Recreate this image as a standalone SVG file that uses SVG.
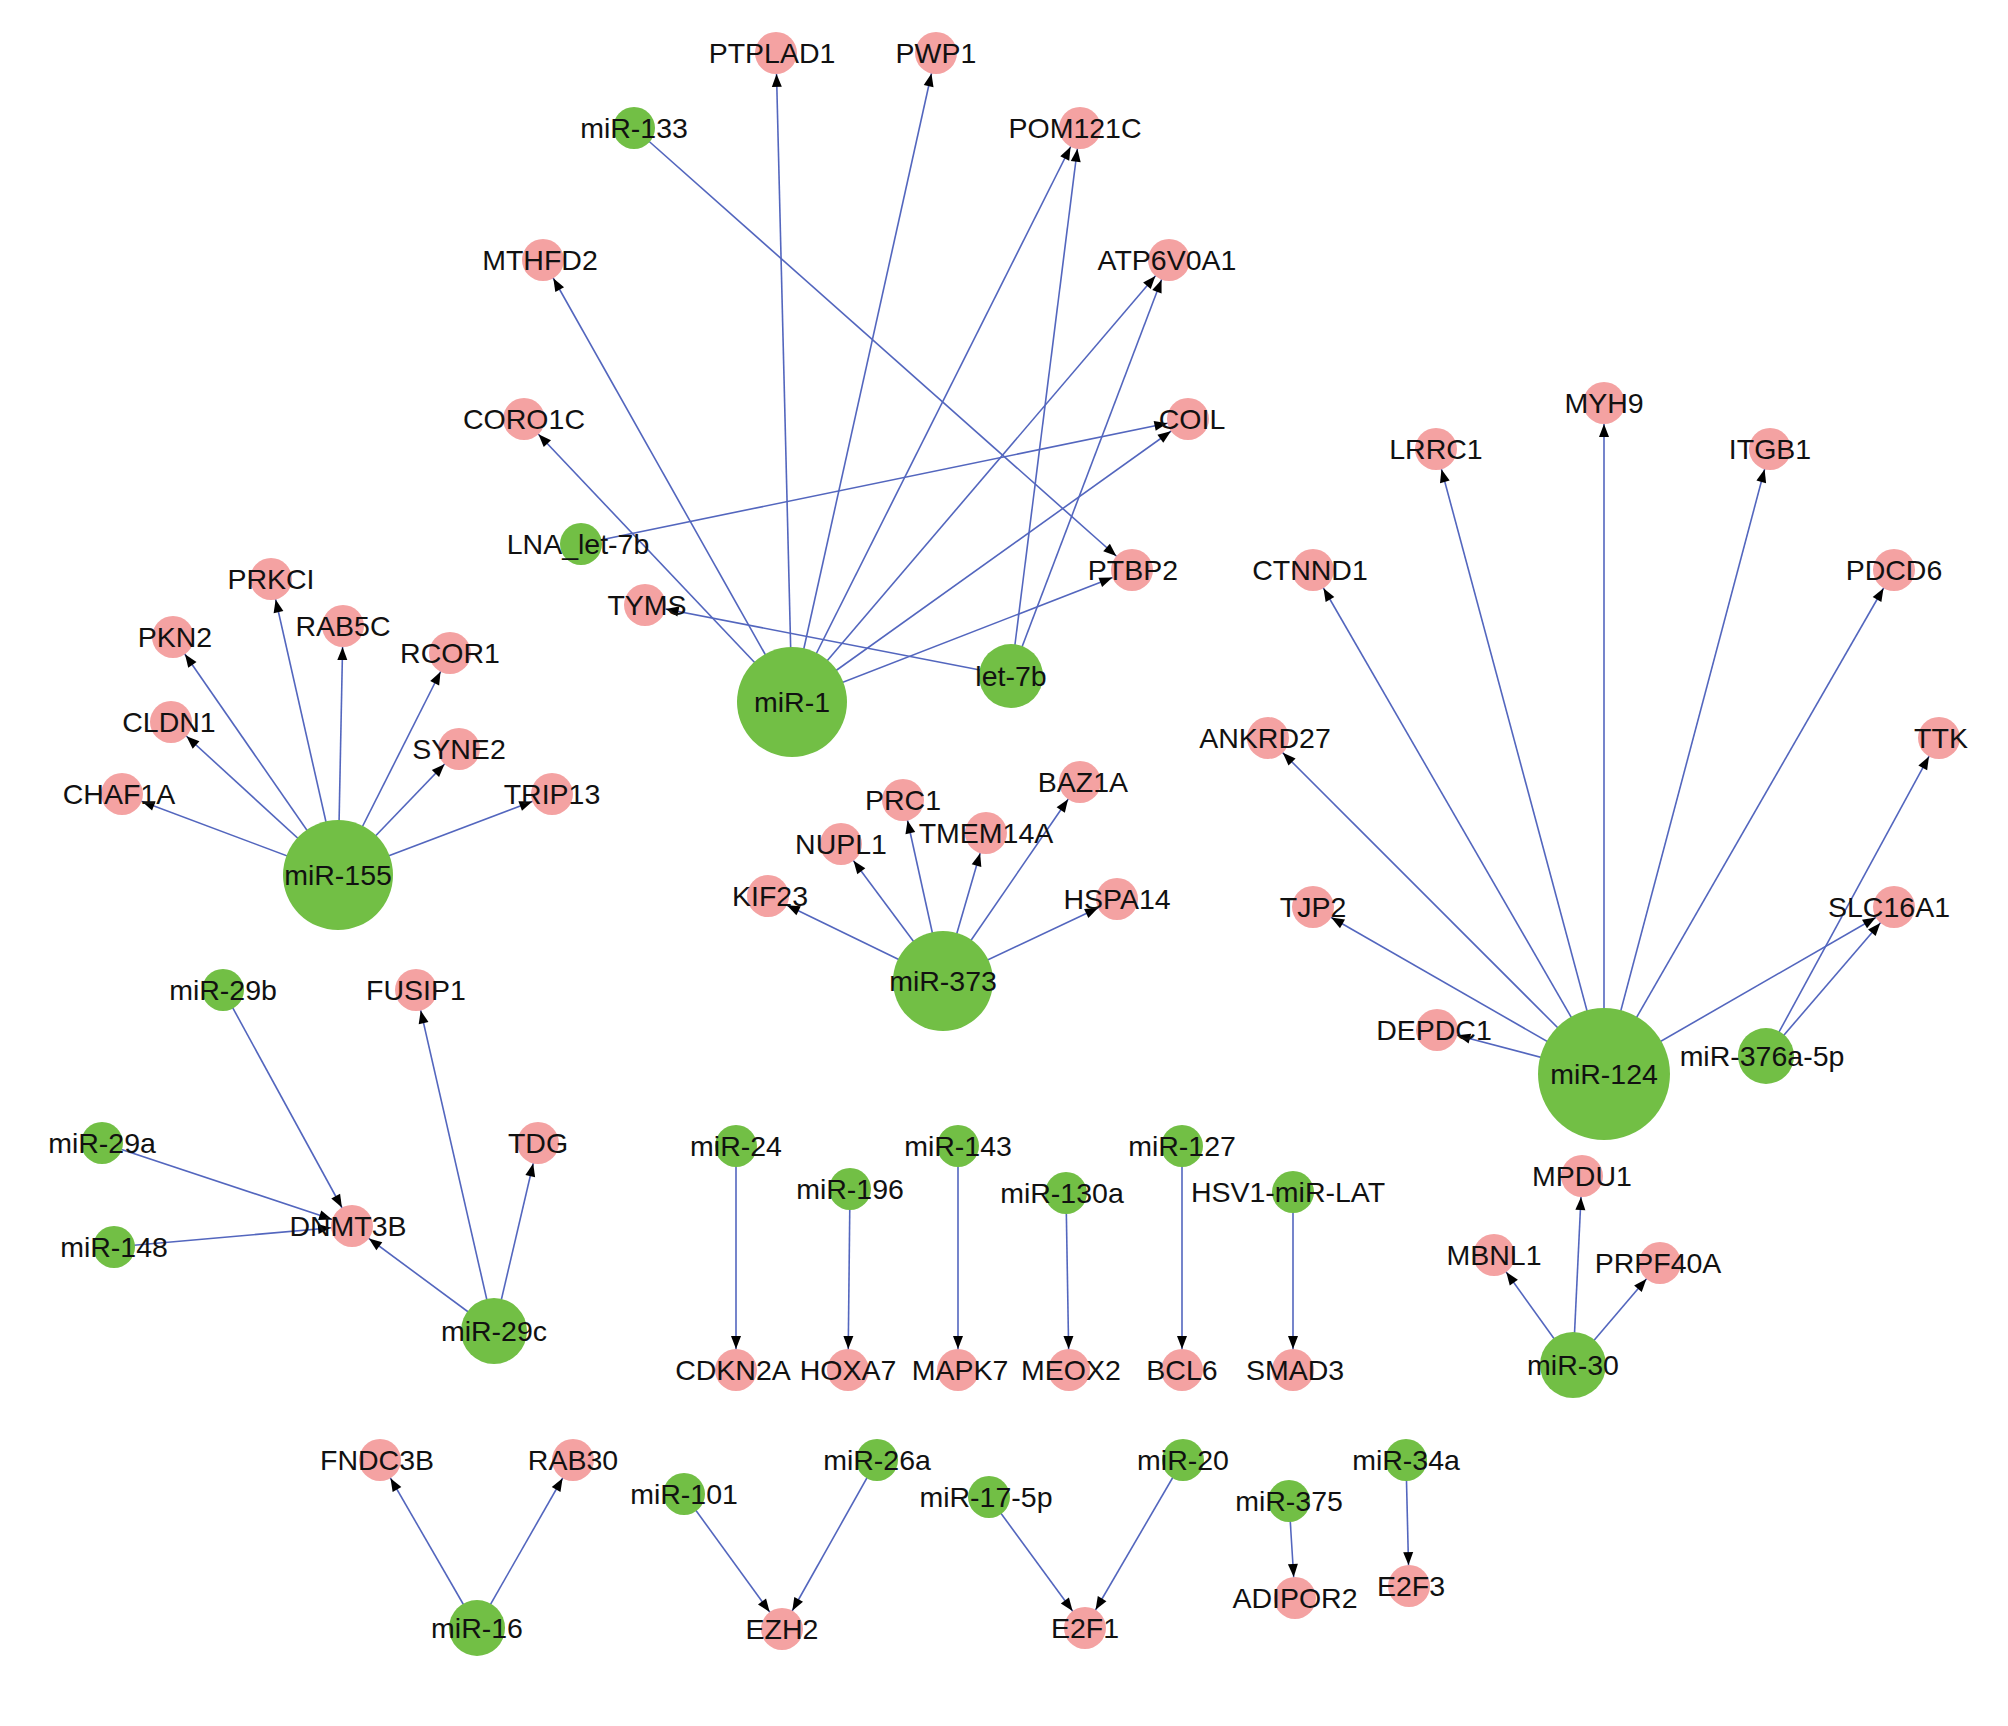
<svg xmlns="http://www.w3.org/2000/svg" width="2008" height="1726" viewBox="0 0 2008 1726">
<style>
.e{stroke:#5366be;stroke-width:1.6;fill:none;marker-end:url(#ah)}
.g{fill:#72bf45}
.p{fill:#f4a2a2}
text{font-family:"Liberation Sans",Arial,sans-serif;font-size:28.5px;fill:#111;text-anchor:middle}
</style>
<defs>
<marker id="ah" viewBox="-40 -10 40 20" markerWidth="40" markerHeight="20" refX="0" refY="0" orient="auto" markerUnits="userSpaceOnUse">
<path d="M-21,0 L-34,-5 L-34,5 z" fill="#000"/>
</marker>
</defs>
<rect width="2008" height="1726" fill="#fff"/>
<g id="connectors">
<line class="e" x1="792" y1="702" x2="776" y2="53"/>
<line class="e" x1="792" y1="702" x2="936" y2="53"/>
<line class="e" x1="792" y1="702" x2="1080" y2="128"/>
<line class="e" x1="792" y1="702" x2="1169" y2="260"/>
<line class="e" x1="792" y1="702" x2="1188" y2="419"/>
<line class="e" x1="792" y1="702" x2="1132" y2="570"/>
<line class="e" x1="792" y1="702" x2="543" y2="260"/>
<line class="e" x1="792" y1="702" x2="524" y2="419"/>
<line class="e" x1="1011" y1="676" x2="1080" y2="128"/>
<line class="e" x1="1011" y1="676" x2="1169" y2="260"/>
<line class="e" x1="1011" y1="676" x2="645" y2="605"/>
<line class="e" x1="581" y1="544" x2="1188" y2="419"/>
<line class="e" x1="634" y1="128" x2="1132" y2="570"/>
<line class="e" x1="338" y1="875" x2="122" y2="794"/>
<line class="e" x1="338" y1="875" x2="171" y2="722"/>
<line class="e" x1="338" y1="875" x2="173" y2="637"/>
<line class="e" x1="338" y1="875" x2="271" y2="579"/>
<line class="e" x1="338" y1="875" x2="343" y2="626"/>
<line class="e" x1="338" y1="875" x2="450" y2="653"/>
<line class="e" x1="338" y1="875" x2="459" y2="749"/>
<line class="e" x1="338" y1="875" x2="552" y2="794"/>
<line class="e" x1="943" y1="981" x2="768" y2="896"/>
<line class="e" x1="943" y1="981" x2="841" y2="844"/>
<line class="e" x1="943" y1="981" x2="903" y2="800"/>
<line class="e" x1="943" y1="981" x2="986" y2="833"/>
<line class="e" x1="943" y1="981" x2="1080" y2="782"/>
<line class="e" x1="943" y1="981" x2="1117" y2="899"/>
<line class="e" x1="1604" y1="1074" x2="1437" y2="1030"/>
<line class="e" x1="1604" y1="1074" x2="1313" y2="907"/>
<line class="e" x1="1604" y1="1074" x2="1268" y2="738"/>
<line class="e" x1="1604" y1="1074" x2="1313" y2="570"/>
<line class="e" x1="1604" y1="1074" x2="1436" y2="449"/>
<line class="e" x1="1604" y1="1074" x2="1604" y2="403"/>
<line class="e" x1="1604" y1="1074" x2="1770" y2="449"/>
<line class="e" x1="1604" y1="1074" x2="1894" y2="570"/>
<line class="e" x1="1604" y1="1074" x2="1894" y2="907"/>
<line class="e" x1="1766" y1="1056" x2="1894" y2="907"/>
<line class="e" x1="1766" y1="1056" x2="1939" y2="738"/>
<line class="e" x1="223" y1="990" x2="352" y2="1226"/>
<line class="e" x1="102" y1="1143" x2="352" y2="1226"/>
<line class="e" x1="114" y1="1247" x2="352" y2="1226"/>
<line class="e" x1="494" y1="1331" x2="352" y2="1226"/>
<line class="e" x1="494" y1="1331" x2="416" y2="990"/>
<line class="e" x1="494" y1="1331" x2="538" y2="1143"/>
<line class="e" x1="736" y1="1146" x2="736" y2="1370"/>
<line class="e" x1="850" y1="1189" x2="848" y2="1370"/>
<line class="e" x1="958" y1="1146" x2="958" y2="1370"/>
<line class="e" x1="1066" y1="1193" x2="1069" y2="1370"/>
<line class="e" x1="1182" y1="1146" x2="1182" y2="1370"/>
<line class="e" x1="1293" y1="1192" x2="1293" y2="1370"/>
<line class="e" x1="1573" y1="1365" x2="1494" y2="1255"/>
<line class="e" x1="1573" y1="1365" x2="1582" y2="1176"/>
<line class="e" x1="1573" y1="1365" x2="1660" y2="1263"/>
<line class="e" x1="477" y1="1628" x2="380" y2="1460"/>
<line class="e" x1="477" y1="1628" x2="573" y2="1460"/>
<line class="e" x1="684" y1="1494" x2="782" y2="1629"/>
<line class="e" x1="877" y1="1460" x2="782" y2="1629"/>
<line class="e" x1="989" y1="1497" x2="1085" y2="1628"/>
<line class="e" x1="1183" y1="1460" x2="1085" y2="1628"/>
<line class="e" x1="1289" y1="1501" x2="1295" y2="1598"/>
<line class="e" x1="1406" y1="1460" x2="1409" y2="1586"/>
</g>
<g id="n-miR-1"><circle class="g" cx="792" cy="702" r="55"/><text x="792" y="712">miR-1</text></g>
<g id="n-miR-155"><circle class="g" cx="338" cy="875" r="55"/><text x="338" y="885">miR-155</text></g>
<g id="n-miR-373"><circle class="g" cx="943" cy="981" r="50"/><text x="943" y="991">miR-373</text></g>
<g id="n-miR-124"><circle class="g" cx="1604" cy="1074" r="66"/><text x="1604" y="1084">miR-124</text></g>
<g id="n-let-7b"><circle class="g" cx="1011" cy="676" r="32"/><text x="1011" y="686">let-7b</text></g>
<g id="n-miR-29c"><circle class="g" cx="494" cy="1331" r="33"/><text x="494" y="1341">miR-29c</text></g>
<g id="n-miR-30"><circle class="g" cx="1573" cy="1365" r="33"/><text x="1573" y="1375">miR-30</text></g>
<g id="n-miR-376a-5p"><circle class="g" cx="1766" cy="1056" r="28"/><text x="1762" y="1066">miR-376a-5p</text></g>
<g id="n-miR-16"><circle class="g" cx="477" cy="1628" r="28"/><text x="477" y="1638">miR-16</text></g>
<g id="n-miR-133"><circle class="g" cx="634" cy="128" r="21"/><text x="634" y="138">miR-133</text></g>
<g id="n-LNA_let-7b"><circle class="g" cx="581" cy="544" r="21"/><text x="578" y="554">LNA_let-7b</text></g>
<g id="n-miR-29b"><circle class="g" cx="223" cy="990" r="21"/><text x="223" y="1000">miR-29b</text></g>
<g id="n-miR-29a"><circle class="g" cx="102" cy="1143" r="21"/><text x="102" y="1153">miR-29a</text></g>
<g id="n-miR-148"><circle class="g" cx="114" cy="1247" r="21"/><text x="114" y="1257">miR-148</text></g>
<g id="n-miR-24"><circle class="g" cx="736" cy="1146" r="21"/><text x="736" y="1156">miR-24</text></g>
<g id="n-miR-196"><circle class="g" cx="850" cy="1189" r="21"/><text x="850" y="1199">miR-196</text></g>
<g id="n-miR-143"><circle class="g" cx="958" cy="1146" r="21"/><text x="958" y="1156">miR-143</text></g>
<g id="n-miR-130a"><circle class="g" cx="1066" cy="1193" r="21"/><text x="1062" y="1203">miR-130a</text></g>
<g id="n-miR-127"><circle class="g" cx="1182" cy="1146" r="21"/><text x="1182" y="1156">miR-127</text></g>
<g id="n-HSV1-miR-LAT"><circle class="g" cx="1293" cy="1192" r="21"/><text x="1288" y="1202">HSV1-miR-LAT</text></g>
<g id="n-miR-101"><circle class="g" cx="684" cy="1494" r="21"/><text x="684" y="1504">miR-101</text></g>
<g id="n-miR-26a"><circle class="g" cx="877" cy="1460" r="21"/><text x="877" y="1470">miR-26a</text></g>
<g id="n-miR-17-5p"><circle class="g" cx="989" cy="1497" r="21"/><text x="986" y="1507">miR-17-5p</text></g>
<g id="n-miR-20"><circle class="g" cx="1183" cy="1460" r="21"/><text x="1183" y="1470">miR-20</text></g>
<g id="n-miR-375"><circle class="g" cx="1289" cy="1501" r="21"/><text x="1289" y="1511">miR-375</text></g>
<g id="n-miR-34a"><circle class="g" cx="1406" cy="1460" r="21"/><text x="1406" y="1470">miR-34a</text></g>
<g id="n-PTPLAD1"><circle class="p" cx="776" cy="53" r="21"/><text x="772" y="63">PTPLAD1</text></g>
<g id="n-PWP1"><circle class="p" cx="936" cy="53" r="21"/><text x="936" y="63">PWP1</text></g>
<g id="n-POM121C"><circle class="p" cx="1080" cy="128" r="21"/><text x="1075" y="138">POM121C</text></g>
<g id="n-MTHFD2"><circle class="p" cx="543" cy="260" r="21"/><text x="540" y="270">MTHFD2</text></g>
<g id="n-ATP6V0A1"><circle class="p" cx="1169" cy="260" r="21"/><text x="1167" y="270">ATP6V0A1</text></g>
<g id="n-CORO1C"><circle class="p" cx="524" cy="419" r="21"/><text x="524" y="429">CORO1C</text></g>
<g id="n-COIL"><circle class="p" cx="1188" cy="419" r="21"/><text x="1192" y="429">COIL</text></g>
<g id="n-TYMS"><circle class="p" cx="645" cy="605" r="21"/><text x="647" y="615">TYMS</text></g>
<g id="n-PTBP2"><circle class="p" cx="1132" cy="570" r="21"/><text x="1133" y="580">PTBP2</text></g>
<g id="n-PRKCI"><circle class="p" cx="271" cy="579" r="21"/><text x="271" y="589">PRKCI</text></g>
<g id="n-PKN2"><circle class="p" cx="173" cy="637" r="21"/><text x="175" y="647">PKN2</text></g>
<g id="n-RAB5C"><circle class="p" cx="343" cy="626" r="21"/><text x="343" y="636">RAB5C</text></g>
<g id="n-RCOR1"><circle class="p" cx="450" cy="653" r="21"/><text x="450" y="663">RCOR1</text></g>
<g id="n-CLDN1"><circle class="p" cx="171" cy="722" r="21"/><text x="169" y="732">CLDN1</text></g>
<g id="n-SYNE2"><circle class="p" cx="459" cy="749" r="21"/><text x="459" y="759">SYNE2</text></g>
<g id="n-CHAF1A"><circle class="p" cx="122" cy="794" r="21"/><text x="119" y="804">CHAF1A</text></g>
<g id="n-TRIP13"><circle class="p" cx="552" cy="794" r="21"/><text x="552" y="804">TRIP13</text></g>
<g id="n-PRC1"><circle class="p" cx="903" cy="800" r="21"/><text x="903" y="810">PRC1</text></g>
<g id="n-NUPL1"><circle class="p" cx="841" cy="844" r="21"/><text x="841" y="854">NUPL1</text></g>
<g id="n-TMEM14A"><circle class="p" cx="986" cy="833" r="21"/><text x="986" y="843">TMEM14A</text></g>
<g id="n-BAZ1A"><circle class="p" cx="1080" cy="782" r="21"/><text x="1083" y="792">BAZ1A</text></g>
<g id="n-KIF23"><circle class="p" cx="768" cy="896" r="21"/><text x="770" y="906">KIF23</text></g>
<g id="n-HSPA14"><circle class="p" cx="1117" cy="899" r="21"/><text x="1117" y="909">HSPA14</text></g>
<g id="n-MYH9"><circle class="p" cx="1604" cy="403" r="21"/><text x="1604" y="413">MYH9</text></g>
<g id="n-LRRC1"><circle class="p" cx="1436" cy="449" r="21"/><text x="1436" y="459">LRRC1</text></g>
<g id="n-ITGB1"><circle class="p" cx="1770" cy="449" r="21"/><text x="1770" y="459">ITGB1</text></g>
<g id="n-CTNND1"><circle class="p" cx="1313" cy="570" r="21"/><text x="1310" y="580">CTNND1</text></g>
<g id="n-PDCD6"><circle class="p" cx="1894" cy="570" r="21"/><text x="1894" y="580">PDCD6</text></g>
<g id="n-ANKRD27"><circle class="p" cx="1268" cy="738" r="21"/><text x="1265" y="748">ANKRD27</text></g>
<g id="n-TTK"><circle class="p" cx="1939" cy="738" r="21"/><text x="1941" y="748">TTK</text></g>
<g id="n-TJP2"><circle class="p" cx="1313" cy="907" r="21"/><text x="1313" y="917">TJP2</text></g>
<g id="n-SLC16A1"><circle class="p" cx="1894" cy="907" r="21"/><text x="1889" y="917">SLC16A1</text></g>
<g id="n-DEPDC1"><circle class="p" cx="1437" cy="1030" r="21"/><text x="1434" y="1040">DEPDC1</text></g>
<g id="n-FUSIP1"><circle class="p" cx="416" cy="990" r="21"/><text x="416" y="1000">FUSIP1</text></g>
<g id="n-TDG"><circle class="p" cx="538" cy="1143" r="21"/><text x="538" y="1153">TDG</text></g>
<g id="n-DNMT3B"><circle class="p" cx="352" cy="1226" r="21"/><text x="348" y="1236">DNMT3B</text></g>
<g id="n-CDKN2A"><circle class="p" cx="736" cy="1370" r="21"/><text x="733" y="1380">CDKN2A</text></g>
<g id="n-HOXA7"><circle class="p" cx="848" cy="1370" r="21"/><text x="848" y="1380">HOXA7</text></g>
<g id="n-MAPK7"><circle class="p" cx="958" cy="1370" r="21"/><text x="960" y="1380">MAPK7</text></g>
<g id="n-MEOX2"><circle class="p" cx="1069" cy="1370" r="21"/><text x="1071" y="1380">MEOX2</text></g>
<g id="n-BCL6"><circle class="p" cx="1182" cy="1370" r="21"/><text x="1182" y="1380">BCL6</text></g>
<g id="n-SMAD3"><circle class="p" cx="1293" cy="1370" r="21"/><text x="1295" y="1380">SMAD3</text></g>
<g id="n-MPDU1"><circle class="p" cx="1582" cy="1176" r="21"/><text x="1582" y="1186">MPDU1</text></g>
<g id="n-MBNL1"><circle class="p" cx="1494" cy="1255" r="21"/><text x="1494" y="1265">MBNL1</text></g>
<g id="n-PRPF40A"><circle class="p" cx="1660" cy="1263" r="21"/><text x="1658" y="1273">PRPF40A</text></g>
<g id="n-FNDC3B"><circle class="p" cx="380" cy="1460" r="21"/><text x="377" y="1470">FNDC3B</text></g>
<g id="n-RAB30"><circle class="p" cx="573" cy="1460" r="21"/><text x="573" y="1470">RAB30</text></g>
<g id="n-EZH2"><circle class="p" cx="782" cy="1629" r="21"/><text x="782" y="1639">EZH2</text></g>
<g id="n-E2F1"><circle class="p" cx="1085" cy="1628" r="21"/><text x="1085" y="1638">E2F1</text></g>
<g id="n-ADIPOR2"><circle class="p" cx="1295" cy="1598" r="21"/><text x="1295" y="1608">ADIPOR2</text></g>
<g id="n-E2F3"><circle class="p" cx="1409" cy="1586" r="21"/><text x="1411" y="1596">E2F3</text></g>
</svg>
